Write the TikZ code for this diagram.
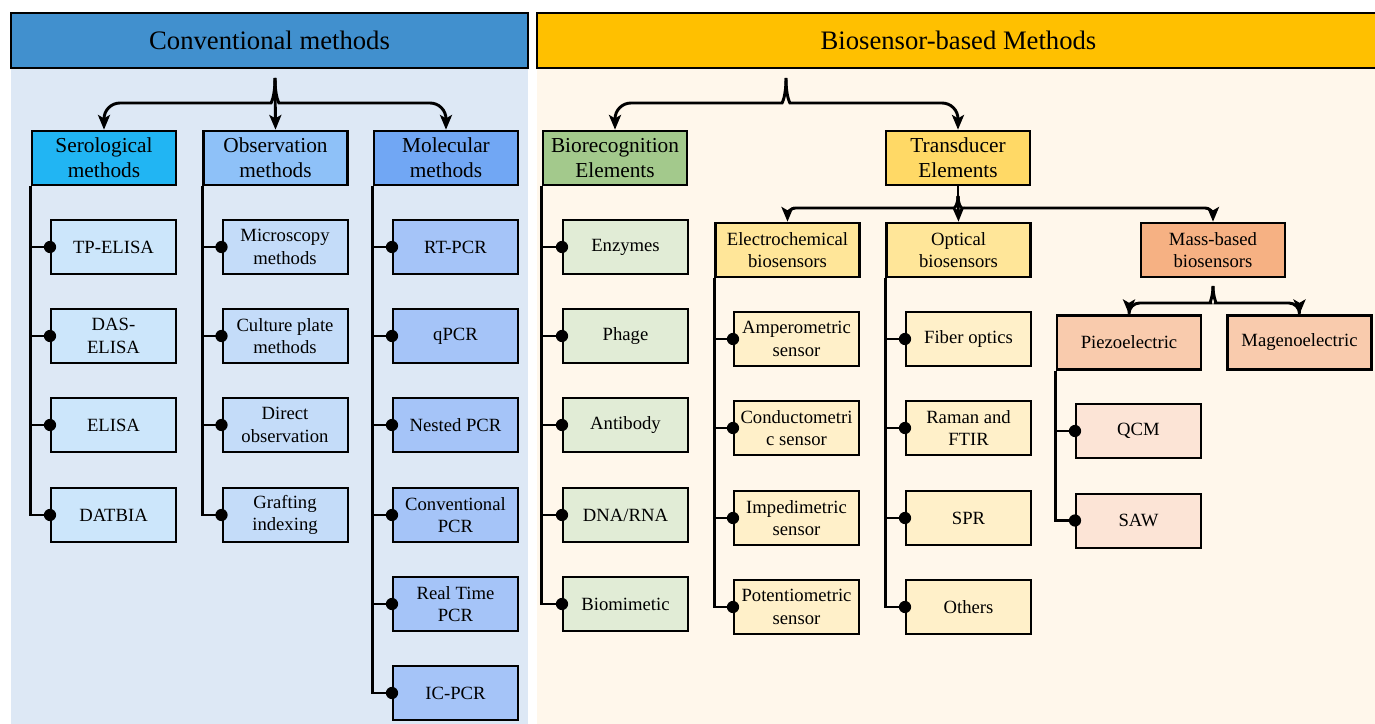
\documentclass[tikz,border=0pt]{standalone}
\usepackage{fontspec}
\setmainfont{Liberation Serif}
\usetikzlibrary{arrows.meta}

\definecolor{convhead}{HTML}{4190CE}
\definecolor{convbg}{HTML}{DDE8F5}
\definecolor{biohead}{HTML}{FFC000}
\definecolor{biobg}{HTML}{FFF7EB}
\definecolor{serohead}{HTML}{21B5F3}
\definecolor{seroleaf}{HTML}{CCE6FB}
\definecolor{obshead}{HTML}{8EC1F8}
\definecolor{obsleaf}{HTML}{C4DCF9}
\definecolor{molhead}{HTML}{71A7F4}
\definecolor{molleaf}{HTML}{A5C4F8}
\definecolor{recoghead}{HTML}{A3C98C}
\definecolor{recogleaf}{HTML}{E1ECD6}
\definecolor{transhead}{HTML}{FFD966}
\definecolor{sensorhead}{HTML}{FFE699}
\definecolor{sensorleaf}{HTML}{FFF0C9}
\definecolor{masshead}{HTML}{F6B183}
\definecolor{piezohead}{HTML}{F9CBAD}
\definecolor{piezoleaf}{HTML}{FCE4D6}

\begin{document}
\begin{tikzpicture}[
    x=0.75pt, y=-0.75pt,
    head/.style={
        rectangle,
        draw,
        line width=1.2pt,
        minimum height=41.25pt,
        font=\fontsize{20}{24}\selectfont
    },
    cat/.style={
        rectangle,
        draw,
        line width=2pt,
        align=center,
        inner sep=1pt,
        minimum width=108pt,
        minimum height=40.5pt,
        font=\fontsize{16}{19}\selectfont
    },
    sub/.style={
        cat,
        font=\fontsize{14}{17}\selectfont
    },
    leaf/.style={
        rectangle,
        draw,
        line width=1.5pt,
        align=center,
        inner sep=1pt,
        minimum width=93.75pt,
        minimum height=40.5pt,
        font=\fontsize{14}{17}\selectfont
    },
    arrow/.style={
        -{Stealth[length=11pt,width=9pt,inset=2.5pt]},
        line width=2.2pt
    },
    link/.style={
        line width=2.2pt
    }
]

\useasboundingbox (0,0) rectangle (1375,724);
\fill[white] (0,0) rectangle (1375,724);
\fill[convbg] (11,68) rectangle (528,724);
\fill[biobg] (537,68) rectangle (1375,724);

% headers
\node[head, fill=convhead, minimum width=387.75pt] (conv) at (269.5,40.5) {Conventional methods};
\node[head, fill=biohead, minimum width=632.25pt] (bio) at (958.5,40.5) {Biosensor-based Methods};

% first level
\node[cat, fill=serohead] (sero) at (104,158) {Serological\\methods};
\node[cat, fill=obshead] (obs) at (275.5,158) {Observation\\methods};
\node[cat, fill=molhead] (mol) at (446,158) {Molecular\\methods};
\node[cat, fill=recoghead] (recog) at (615,158) {Biorecognition\\Elements};
\node[cat, fill=transhead] (trans) at (958,158) {Transducer\\Elements};

% serological
\node[leaf, fill=seroleaf] (tpelisa) at (113.5,247) {TP-ELISA};
\node[leaf, fill=seroleaf] (daselisa) at (113.5,336) {DAS-\\ELISA};
\node[leaf, fill=seroleaf] (elisa) at (113.5,425) {ELISA};
\node[leaf, fill=seroleaf] (datbia) at (113.5,515) {DATBIA};

% observation
\node[leaf, fill=obsleaf] (micro) at (285,247) {Microscopy\\methods};
\node[leaf, fill=obsleaf] (culture) at (285,336) {Culture plate\\methods};
\node[leaf, fill=obsleaf] (direct) at (285,425) {Direct\\observation};
\node[leaf, fill=obsleaf] (graft) at (285,515) {Grafting\\indexing};

% molecular
\node[leaf, fill=molleaf] (rtpcr) at (455.5,247) {RT-PCR};
\node[leaf, fill=molleaf] (qpcr) at (455.5,336) {qPCR};
\node[leaf, fill=molleaf] (nested) at (455.5,425) {Nested PCR};
\node[leaf, fill=molleaf] (convpcr) at (455.5,515) {Conventional\\PCR};
\node[leaf, fill=molleaf] (realtime) at (455.5,604) {Real Time\\PCR};
\node[leaf, fill=molleaf] (icpcr) at (455.5,693) {IC-PCR};

% biorecognition
\node[leaf, fill=recogleaf] (enzymes) at (625.5,247) {Enzymes};
\node[leaf, fill=recogleaf] (phage) at (625.5,336) {Phage};
\node[leaf, fill=recogleaf] (antibody) at (625.5,425) {Antibody};
\node[leaf, fill=recogleaf] (dna) at (625.5,515) {DNA/RNA};
\node[leaf, fill=recogleaf] (biomim) at (625.5,604) {Biomimetic};

% transducers
\node[sub, fill=sensorhead] (elec) at (787.5,250) {Electrochemical\\biosensors};
\node[sub, fill=sensorhead] (opt) at (958.5,250) {Optical\\biosensors};
\node[sub, fill=masshead] (mass) at (1213,250) {Mass-based\\biosensors};

\node[leaf, fill=sensorleaf] (ampero) at (796.5,339) {Amperometric\\sensor};
\node[leaf, fill=sensorleaf] (conduct) at (796.5,428) {Conductometri\\c sensor};
\node[leaf, fill=sensorleaf] (impedi) at (796.5,518) {Impedimetric\\sensor};
\node[leaf, fill=sensorleaf] (potent) at (796.5,607) {Potentiometric\\sensor};

\node[leaf, fill=sensorleaf] (fiber) at (968.5,339) {Fiber optics};
\node[leaf, fill=sensorleaf] (raman) at (968.5,428) {Raman and\\FTIR};
\node[leaf, fill=sensorleaf] (spr) at (968.5,518) {SPR};
\node[leaf, fill=sensorleaf] (others) at (968.5,607) {Others};

\node[sub, fill=piezohead] (piezo) at (1129,342.5) {Piezoelectric};
\node[sub, fill=piezohead] (mageno) at (1299.5,342.5) {Magenoelectric};

\node[leaf, fill=piezoleaf] (qcm) at (1138.5,431) {QCM};
\node[leaf, fill=piezoleaf] (saw) at (1138.5,520.5) {SAW};

% braces
\coordinate (convtip) at (275,78);
\draw[arrow, rounded corners=12pt] (convtip) .. controls (275,97) and (271,103) .. (255,103) -| (sero.north);
\draw[arrow] (convtip) -- (obs.north);
\draw[arrow, rounded corners=12pt] (convtip) .. controls (275,97) and (279,103) .. (295,103) -| (mol.north);

\coordinate (biotip) at (786,78);
\draw[arrow, rounded corners=12pt] (biotip) .. controls (786,97) and (782,103) .. (766,103) -| (recog.north);
\draw[arrow, rounded corners=12pt] (biotip) .. controls (786,97) and (790,103) .. (806,103) -| (trans.north);

\coordinate (transtip) at (958,196);
\draw[link] (trans.south) -- (transtip);
\draw[arrow, rounded corners=6pt] (transtip) .. controls (958,204) and (955,208) .. (946,208) -| (elec.north);
\draw[arrow] (transtip) -- (opt.north);
\draw[arrow, rounded corners=6pt] (transtip) .. controls (958,204) and (961,208) .. (970,208) -| (mass.north);

\coordinate (masstip) at (1213,286);
\draw[arrow, rounded corners=8pt] (masstip) .. controls (1213,298) and (1209,303) .. (1200,303) -| (piezo.north);
\draw[arrow, rounded corners=8pt] (masstip) .. controls (1213,298) and (1217,303) .. (1226,303) -| (mageno.north);

% trunks
\draw[link] (sero.south west) |- (tpelisa.west);
\draw[link] (sero.south west) |- (daselisa.west);
\draw[link] (sero.south west) |- (elisa.west);
\draw[link] (sero.south west) |- (datbia.west);

\draw[link] (obs.south west) |- (micro.west);
\draw[link] (obs.south west) |- (culture.west);
\draw[link] (obs.south west) |- (direct.west);
\draw[link] (obs.south west) |- (graft.west);

\draw[link] (mol.south west) |- (rtpcr.west);
\draw[link] (mol.south west) |- (qpcr.west);
\draw[link] (mol.south west) |- (nested.west);
\draw[link] (mol.south west) |- (convpcr.west);
\draw[link] (mol.south west) |- (realtime.west);
\draw[link] (mol.south west) |- (icpcr.west);

\draw[link] (recog.south west) |- (enzymes.west);
\draw[link] (recog.south west) |- (phage.west);
\draw[link] (recog.south west) |- (antibody.west);
\draw[link] (recog.south west) |- (dna.west);
\draw[link] (recog.south west) |- (biomim.west);

\draw[link] (elec.south west) |- (ampero.west);
\draw[link] (elec.south west) |- (conduct.west);
\draw[link] (elec.south west) |- (impedi.west);
\draw[link] (elec.south west) |- (potent.west);

\draw[link] (opt.south west) |- (fiber.west);
\draw[link] (opt.south west) |- (raman.west);
\draw[link] (opt.south west) |- (spr.west);
\draw[link] (opt.south west) |- (others.west);

\draw[link] (piezo.south west) |- (qcm.west);
\draw[link] (piezo.south west) |- (saw.west);

% dots
\foreach \n in {tpelisa,daselisa,elisa,datbia,micro,culture,direct,graft,
    rtpcr,qpcr,nested,convpcr,realtime,icpcr,enzymes,phage,antibody,dna,biomim,
    ampero,conduct,impedi,potent,fiber,raman,spr,others,qcm,saw}
    \fill (\n.west) circle (4.6pt);

\end{tikzpicture}
\end{document}
